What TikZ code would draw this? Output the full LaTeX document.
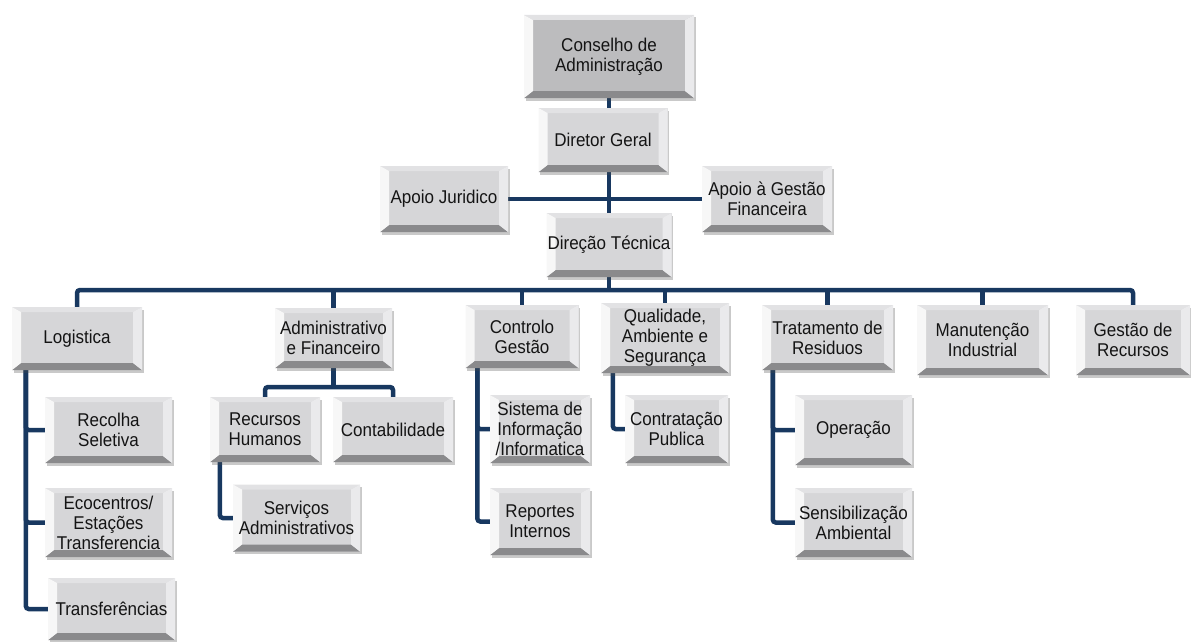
\documentclass[tikz,border=0pt]{standalone}
\usepackage{fontspec}
\setmainfont{Liberation Sans}[FakeStretch=0.92]
\usetikzlibrary{calc,shadows}
\definecolor{face}{RGB}{214,214,216}
\definecolor{topface}{RGB}{188,188,190}
\definecolor{bvL}{RGB}{247,247,247}
\definecolor{bvR}{RGB}{234,234,236}
\definecolor{bvT}{RGB}{226,226,228}
\definecolor{bvB}{RGB}{138,138,140}
\definecolor{navy}{RGB}{24,56,96}
\pgfdeclarelayer{bg}
\pgfsetlayers{bg,main}
\tikzset{
  wh/.style 2 args={minimum width=#1pt,minimum height=#2pt},
  bx/.style={fill=face, text=black!92, align=center, inner sep=1pt,
    font=\fontsize{18.5}{20}\selectfont,
    drop shadow={shadow xshift=1.5pt,shadow yshift=-2.5pt,opacity=.3,fill=black!70},
    path picture={
      \fill[bvT] (path picture bounding box.north west) -- (path picture bounding box.north east)
        -- ([shift={(-9pt,-5pt)}]path picture bounding box.north east)
        -- ([shift={(9pt,-5pt)}]path picture bounding box.north west) -- cycle;
      \fill[bvB] (path picture bounding box.south west) -- (path picture bounding box.south east)
        -- ([shift={(-9pt,7pt)}]path picture bounding box.south east)
        -- ([shift={(9pt,7pt)}]path picture bounding box.south west) -- cycle;
      \fill[bvL] (path picture bounding box.north west) -- (path picture bounding box.south west)
        -- ([shift={(9pt,7pt)}]path picture bounding box.south west)
        -- ([shift={(9pt,-5pt)}]path picture bounding box.north west) -- cycle;
      \fill[bvR] (path picture bounding box.north east) -- (path picture bounding box.south east)
        -- ([shift={(-9pt,7pt)}]path picture bounding box.south east)
        -- ([shift={(-9pt,-5pt)}]path picture bounding box.north east) -- cycle;
    }},
  bxtop/.style={bx, fill=topface},
  link/.style={draw=navy, line width=4.5pt, rounded corners=3pt}
}
\begin{document}
\begin{tikzpicture}[x=1pt,y=-1pt]
\useasboundingbox (0,0) rectangle (1191,642);
% top
\node[bxtop, wh={170}{83}] (cons) at (609,56.5) {Conselho de\\Administração};
\node[bx, wh={129}{64}] (dg) at (603,140) {Diretor Geral};
\node[bx, wh={128}{66}] (aj) at (444,199) {Apoio Juridico};
\node[bx, wh={130}{66}] (agf) at (767,199) {Apoio à Gestão\\Financeira};
\node[bx, wh={125}{64}] (dt) at (609,245) {Direção Técnica};
% level 2
\node[bx, wh={130}{63}] (log) at (77,338.5) {Logistica};
\node[bx, wh={117}{60}] (adm) at (333.5,338) {Administrativo\\e Financeiro};
\node[bx, wh={113}{63}] (cg) at (522,336.5) {Controlo\\Gestão};
\node[bx, wh={128}{70}] (qas) at (665,338) {Qualidade,\\Ambiente e\\Segurança};
\node[bx, wh={131}{65}] (trs) at (827.5,337.5) {Tratamento de\\Residuos};
\node[bx, wh={131}{70}] (man) at (982.5,340) {Manutenção\\Industrial};
\node[bx, wh={114}{70}] (ges) at (1133,340) {Gestão de\\Recursos};
% level 3
\node[bx, wh={127}{66}] (rs) at (108.5,430) {Recolha\\Seletiva};
\node[bx, wh={127}{69}] (eco) at (108.5,522.5) {Ecocentros/\\Estações\\Transferencia};
\node[bx, wh={127}{62}] (tra) at (111.5,609) {Transferências};
\node[bx, wh={110}{65}] (rh) at (265,429.5) {Recursos\\Humanos};
\node[bx, wh={120}{65}] (cont) at (393,429.5) {Contabilidade};
\node[bx, wh={127}{67}] (sa) at (296.5,518) {Serviços\\Administrativos};
\node[bx, wh={100}{68}] (si) at (540,429) {Sistema de\\Informação\\/Informatica};
\node[bx, wh={100}{67}] (ri) at (540,521.5) {Reportes\\Internos};
\node[bx, wh={103}{68}] (cp) at (676.5,429) {Contratação\\Publica};
\node[bx, wh={117}{70}] (op) at (853.5,430) {Operação};
\node[bx, wh={117}{69}] (sen) at (853.5,522.5) {Sensibilização\\Ambiental};
\coordinate (bus) at (609,290);
\coordinate (ab) at (333.5,387);
\begin{pgfonlayer}{bg}
\draw[link] (cons.south) -- (dt.north);
\draw[link] (aj.east) -- (agf.west);
\draw[link] (dt.south) -- (bus);
\draw[link] (log.north) |- (bus) -| (ges.north);
\foreach \n in {adm,cg,qas,trs,man}{\draw[link] (\n.north) -- (\n.north |- bus);}
\draw[link] (adm.south) -- (ab);
\draw[link] (rh.north) |- (ab) -| (cont.north);
\draw[link] ([xshift=10pt]rh.south west) |- (sa.west);
\foreach \n in {rs,eco,tra}{\draw[link] ([xshift=14pt]log.south west) |- (\n.west);}
\foreach \n in {si,ri}{\draw[link] ([xshift=12pt]cg.south west) |- (\n.west);}
\draw[link] ([xshift=12pt]qas.south west) |- (cp.west);
\foreach \n in {op,sen}{\draw[link] ([xshift=11pt]trs.south west) |- (\n.west);}
\end{pgfonlayer}
\end{tikzpicture}
\end{document}
